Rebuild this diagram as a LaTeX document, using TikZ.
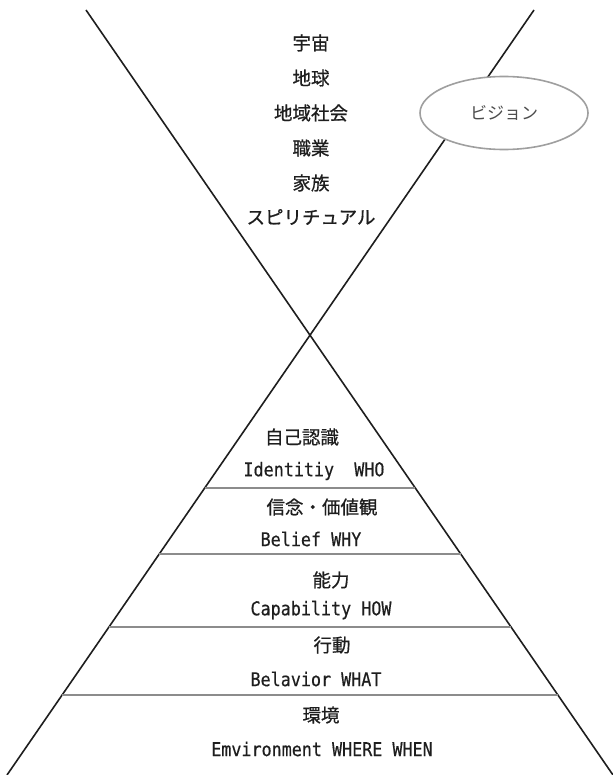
\documentclass[tikz,border=0pt]{standalone}
\usepackage{fontspec}
\usetikzlibrary{shapes.geometric}
\newfontfamily\jpfont[FakeBold=0.7]{Noto Sans CJK JP}
\newfontfamily\visfont{Noto Sans CJK JP}
\newfontfamily\monofont[FakeStretch=0.88,FakeBold=0.4]{DejaVu Sans Mono}
\definecolor{ink}{HTML}{1E1E1E}
\definecolor{sepgray}{HTML}{8C8C8C}
\tikzset{
  jp/.style={font=\jpfont\fontsize{18.5bp}{20bp}\selectfont, text=ink, inner sep=0pt},
  en/.style={font=\monofont\fontsize{19bp}{20bp}\selectfont, text=ink, inner sep=0pt},
  diag/.style={line width=1.6bp, draw=ink},
  sep/.style={line width=1.9bp, draw=sepgray},
  vision/.style={ellipse, draw=gray!75, line width=1.6bp, fill=white, minimum width=168bp, minimum height=73bp, inner sep=0pt, text=gray!60!black, font=\visfont\fontsize{17bp}{18bp}\selectfont}
}
\begin{document}
\begin{tikzpicture}[x=1bp,y=-1bp]
\useasboundingbox (0,0) rectangle (613,775);
% crossing lines
\coordinate (TL) at (86,10);
\coordinate (BR) at (613,775);
\coordinate (TR) at (534,10);
\coordinate (BL) at (7,775);
\draw[diag] (TL) -- (BR);
\draw[diag] (TR) -- (BL);
% separators
\foreach \n/\yy in {1/488,2/554,3/627,4/695}{
  \coordinate (s\n l) at (intersection of TR--BL and 0,\yy--10,\yy);
  \coordinate (s\n r) at (intersection of TL--BR and 0,\yy--10,\yy);
  \draw[sep] (s\n l) -- (s\n r);
}
% top labels
\node[jp] (t1) at (311,43) {宇宙};
\node[jp] (t2) at (311,78) {地球};
\node[jp] (t3) at (311,113) {地域社会};
\node[jp] (t4) at (311,148) {職業};
\node[jp] (t5) at (311,183) {家族};
\node[jp] (t6) at (311,217) {スピリチュアル};
% vision ellipse
\node[vision] (vis) at (504,113) {ビジョン};
% pyramid labels
\node[jp] (b1) at (302,437) {自己認識};
\node[en] (e1) at (314,471) {Identitiy~~WHO};
\node[jp] (b2) at (322,507) {信念・価値観};
\node[en] (e2) at (311,539) {Belief WHY};
\node[jp] (b3) at (331,580) {能力};
\node[en] (e3) at (321,610) {Capability HOW};
\node[jp] (b4) at (332,645) {行動};
\node[en] (e4) at (316,679) {Belavior WHAT};
\node[jp] (b5) at (321,715) {環境};
\node[en] (e5) at (322,749) {Emvironment WHERE WHEN};
\end{tikzpicture}
\end{document}
